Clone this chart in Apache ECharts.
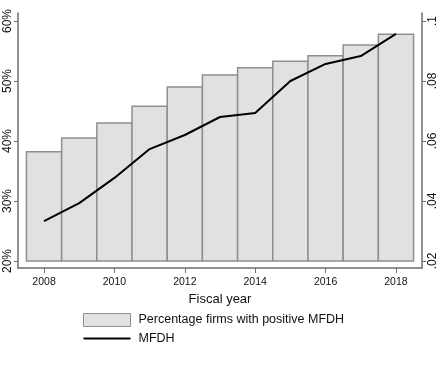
<!DOCTYPE html>
<html>
<head>
<meta charset="utf-8">
<script src="https://cdn.jsdelivr.net/npm/echarts@6/dist/echarts.min.js"></script>
<style>
html,body{margin:0;padding:0;background:#fff;}
#chart{width:440px;height:367px;}
</style>
</head>
<body>
<div id="chart"></div>
<script>
const years = [2008, 2009, 2010, 2011, 2012, 2013, 2014, 2015, 2016, 2017, 2018];
const pctPositive = [38.2, 40.5, 43.0, 45.8, 49.0, 51.0, 52.2, 53.3, 54.2, 56.0, 57.8];
const mfdh = [0.0333, 0.0393, 0.0477, 0.0573, 0.0620, 0.0680, 0.0693, 0.0800, 0.0857, 0.0883, 0.0957];
const leftTicks = [20, 30, 40, 50, 60];
const rightTicks = [0.02, 0.04, 0.06, 0.08, 0.1];
const xTicks = [2008, 2010, 2012, 2014, 2016, 2018];
const barBase = 20;

const barName = 'Percentage firms with positive MFDH';
const lineName = 'MFDH';
const FONT = 'Liberation Sans, Arial, Helvetica, sans-serif';
const axisColor = '#6e6e6e';
const barFill = '#e1e1e1';
const barStroke = '#8f8f8f';

const chart = echarts.init(document.getElementById('chart'), null, {renderer: 'canvas'});
const option = {
  backgroundColor: '#fff',
  animation: false,
  textStyle: {fontFamily: FONT},
  grid: {left: 18, right: 18, top: 13, bottom: 99, containLabel: false},
  legend: {
    orient: 'vertical',
    left: 83,
    top: 313,
    padding: 0,
    itemWidth: 47,
    itemHeight: 13,
    itemGap: 5,
    textStyle: {fontFamily: FONT, fontSize: 12.5, color: '#111', padding: [0, 0, 0, 3]},
    data: [
      {name: barName, icon: 'rect', itemStyle: {color: barFill, borderColor: barStroke, borderWidth: 1}},
      {name: lineName, icon: 'path://M0,0H47V2H0Z', itemStyle: {color: '#000', borderWidth: 0}}
    ]
  },
  xAxis: {
    type: 'value',
    min: 2007.26,
    max: 2018.74,
    name: 'Fiscal year',
    nameLocation: 'middle',
    nameGap: 15,
    nameTextStyle: {fontFamily: FONT, fontSize: 13, color: '#111'},
    axisLine: {show: true, onZero: false, lineStyle: {color: axisColor, width: 1.5}},
    axisTick: {show: true, length: 5, lineStyle: {color: axisColor, width: 1}, customValues: xTicks},
    axisLabel: {show: true, fontSize: 10.5, color: '#111', margin: 9, customValues: xTicks, formatter: v => String(v)},
    splitLine: {show: false}
  },
  yAxis: [
    {
      type: 'value',
      position: 'left',
      min: 18.833,
      max: 61.333,
      axisLine: {show: true, lineStyle: {color: axisColor, width: 1.5}},
      axisTick: {show: true, length: 4, lineStyle: {color: axisColor, width: 1}, customValues: leftTicks},
      axisLabel: {show: true, rotate: 90, fontSize: 12, color: '#111', margin: 4, customValues: leftTicks, formatter: v => v + '%'},
      splitLine: {show: false}
    },
    {
      type: 'value',
      position: 'right',
      min: 0.017667,
      max: 0.102667,
      axisLine: {show: true, lineStyle: {color: axisColor, width: 1.5}},
      axisTick: {show: true, length: 4, lineStyle: {color: axisColor, width: 1}, customValues: rightTicks},
      axisLabel: {show: true, rotate: 90, fontSize: 12, color: '#111', margin: 5, customValues: rightTicks,
        formatter: v => String(+v.toFixed(3)).replace(/^0/, '')},
      splitLine: {show: false}
    }
  ],
  series: [
    {
      name: barName,
      type: 'custom',
      xAxisIndex: 0,
      yAxisIndex: 0,
      itemStyle: {color: barFill, borderColor: barStroke},
      encode: {x: 0, y: 1},
      data: years.map((y, i) => [y, pctPositive[i]]),
      renderItem: function (params, api) {
        const x = api.value(0);
        const v = api.value(1);
        const top = api.coord([x, v]);
        const base = api.coord([x, barBase]);
        const w = api.size([1, 0])[0];
        return {
          type: 'rect',
          shape: {x: top[0] - w / 2, y: top[1], width: w, height: base[1] - top[1]},
          style: {fill: barFill, stroke: barStroke, lineWidth: 1.5}
        };
      },
      z: 1
    },
    {
      name: lineName,
      type: 'line',
      xAxisIndex: 0,
      yAxisIndex: 1,
      symbol: 'none',
      smooth: false,
      lineStyle: {color: '#000', width: 2},
      itemStyle: {color: '#000'},
      data: years.map((y, i) => [y, mfdh[i]]),
      z: 3
    }
  ]
};
chart.setOption(option);
</script>
</body>
</html>
